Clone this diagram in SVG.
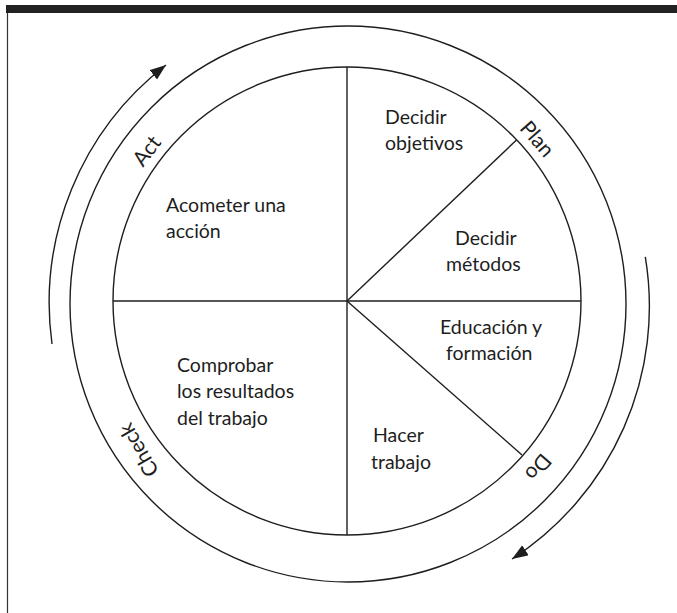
<svg xmlns="http://www.w3.org/2000/svg" width="677" height="613" viewBox="0 0 677 613">
<defs>
<style>
.ln{fill:none;stroke:#1e1e1e;stroke-width:1.4}
.t{font-family:Lato,"Open Sans","Liberation Sans",sans-serif;font-size:19.5px;fill:#1e1e1e}
.r{font-family:Lato,"Open Sans","Liberation Sans",sans-serif;font-size:21px;fill:#1e1e1e}
</style>
<marker id="ah" markerUnits="userSpaceOnUse" markerWidth="18" markerHeight="14" refX="16" refY="6" orient="auto">
<path d="M0,0 L16,6 L0,12 z" fill="#1e1e1e"/>
</marker>
</defs>
<rect width="677" height="613" fill="#fff"/>
<rect x="6" y="5" width="671" height="8" fill="#222"/>
<line x1="7.5" y1="13" x2="7.5" y2="613" stroke="#333" stroke-width="1.2"/>
<g id="frame-circles">
<circle class="ln" cx="348" cy="304" r="278"/>
<circle class="ln" cx="347" cy="301" r="234"/>
</g>
<g id="connectors">
<line class="ln" x1="113" y1="301" x2="581" y2="301"/>
<line class="ln" x1="347" y1="67" x2="347" y2="535"/>
<line class="ln" x1="347" y1="301" x2="516.5" y2="140"/>
<line class="ln" x1="347" y1="301" x2="522" y2="455"/>
<path class="ln" d="M 52 344 A 301 301 0 0 1 166 65" marker-end="url(#ah)"/>
<path class="ln" d="M 645.3 256.9 A 301 301 0 0 1 512 559" marker-end="url(#ah)"/>
</g>
<g id="node-decidir-objetivos"><text class="t" x="385" y="124">Decidir</text><text class="t" x="385" y="150">objetivos</text></g>
<g id="node-acometer"><text class="t" x="166" y="212">Acometer una</text><text class="t" x="166" y="238">acción</text></g>
<g id="node-decidir-metodos"><text class="t" x="455" y="245">Decidir</text><text class="t" x="446" y="271">métodos</text></g>
<g id="node-educacion"><text class="t" x="440" y="334">Educación y</text><text class="t" x="446" y="360">formación</text></g>
<g id="node-comprobar"><text class="t" x="177" y="372">Comprobar</text><text class="t" x="177" y="398">los resultados</text><text class="t" x="177" y="425">del trabajo</text></g>
<g id="node-hacer"><text class="t" x="373" y="442">Hacer</text><text class="t" x="371" y="469">trabajo</text></g>
<g id="label-act"><text class="r" text-anchor="middle" transform="translate(147,151) rotate(-53)" y="7">Act</text></g>
<g id="label-plan"><text class="r" text-anchor="middle" transform="translate(537,139) rotate(49)" y="7">Plan</text></g>
<g id="label-do"><text class="r" text-anchor="middle" transform="translate(538,467) rotate(131)" y="7">Do</text></g>
<g id="label-check"><text class="r" text-anchor="middle" transform="translate(139,450) rotate(-120)" y="7">Check</text></g>
</svg>
